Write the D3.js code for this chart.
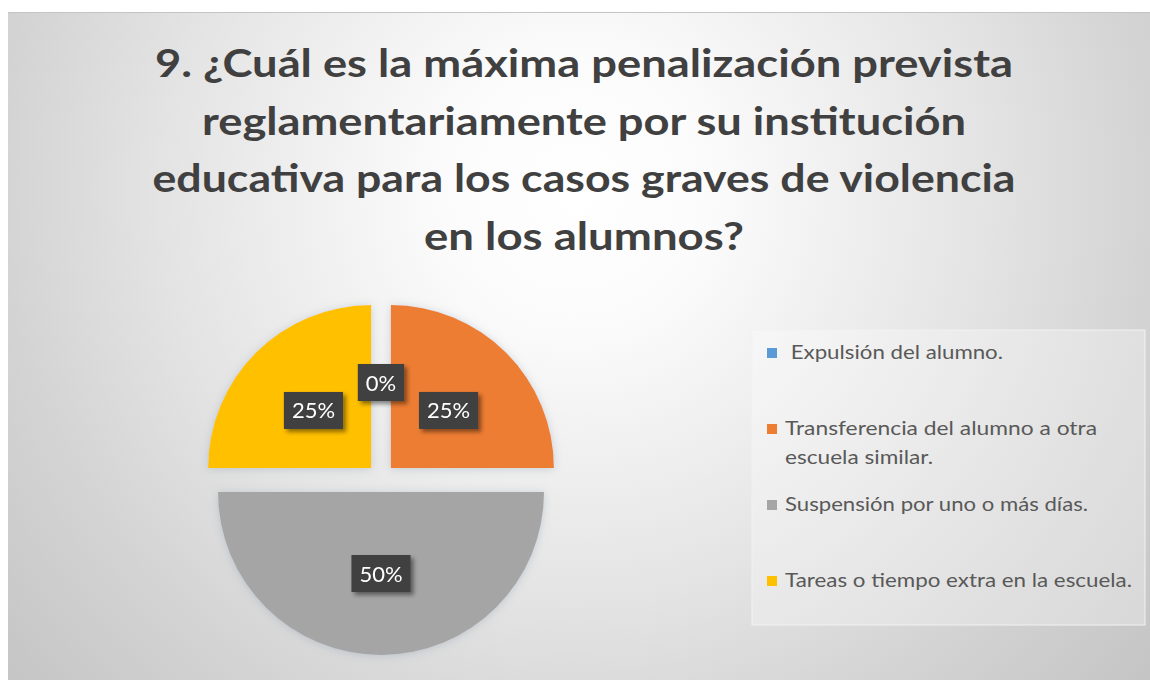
<!DOCTYPE html>
<html>
<head>
<meta charset="utf-8">
<script src="https://cdn.jsdelivr.net/npm/d3@7"></script>
<style>
  body { margin: 0; background: #ffffff; }
  svg { display: block; }
  .legendText { white-space: pre; }
</style>
</head>
<body>
<svg id="chart"></svg>
<script>
// Data

const titleLines = [
  '9. ¿Cuál es la máxima penalización prevista',
  'reglamentariamente por su institución',
  'educativa para los casos graves de violencia',
  'en los alumnos?',
];

const categories = [
  [' Expulsión del alumno.'],
  ['Transferencia del alumno a otra', 'escuela similar.'],
  ['Suspensión por uno o más días.'],
  ['Tareas o tiempo extra en la escuela.'],
];

const values = [0, 25, 50, 25];

const colors = ['#5B9BD5', '#ED7D31', '#A5A5A5', '#FFC000'];

// Layout

const W = 1150;
const H = 680;
const pieCenter = { x: 381, y: 478 };
const radius = 163;
const explode = 14;
const titleWidths = [858, 764, 863, 320];
const legendWidths = [[218], [312, 148], [303], [347]];

const svg = d3.select('#chart').attr('width', W).attr('height', H);
const defs = svg.append('defs');

const bg = defs
  .append('radialGradient')
  .attr('id', 'bg')
  .attr('gradientUnits', 'userSpaceOnUse')
  .attr('cx', 575)
  .attr('cy', 190)
  .attr('r', 760);
[
  [0, '#ffffff'],
  [0.18, '#fbfbfb'],
  [0.55, '#e3e3e3'],
  [0.75, '#d4d4d4'],
  [1, '#c4c4c4'],
].forEach(s => bg.append('stop').attr('offset', s[0]).attr('stop-color', s[1]));

const pieShadow = defs
  .append('filter')
  .attr('id', 'pieShadow')
  .attr('x', '-20%')
  .attr('y', '-20%')
  .attr('width', '140%')
  .attr('height', '140%');
pieShadow
  .append('feDropShadow')
  .attr('dx', 0)
  .attr('dy', 1)
  .attr('stdDeviation', 4)
  .attr('flood-color', '#8c9bb0')
  .attr('flood-opacity', 0.4);

const boxShadow = defs
  .append('filter')
  .attr('id', 'boxShadow')
  .attr('x', '-30%')
  .attr('y', '-30%')
  .attr('width', '160%')
  .attr('height', '160%');
boxShadow
  .append('feDropShadow')
  .attr('dx', 3)
  .attr('dy', 3)
  .attr('stdDeviation', 2)
  .attr('flood-color', '#000')
  .attr('flood-opacity', 0.45);

// Chart area
svg
  .append('rect')
  .attr('x', 8)
  .attr('y', 12)
  .attr('width', W - 8)
  .attr('height', H - 12)
  .attr('fill', 'url(#bg)');

svg
  .append('line')
  .attr('x1', 8)
  .attr('x2', W)
  .attr('y1', 12.5)
  .attr('y2', 12.5)
  .attr('stroke', '#c4c4c4')
  .attr('stroke-width', 1);

// Title
svg
  .append('g')
  .selectAll('text')
  .data(titleLines)
  .enter()
  .append('text')
  .attr('x', 584)
  .attr('y', (d, i) => 77 + i * 57.5)
  .attr('text-anchor', 'middle')
  .attr('font-family', 'Lato, "Open Sans", sans-serif')
  .attr('font-weight', 'bold')
  .attr('font-size', 39)
  .attr('fill', '#404040')
  .attr('textLength', (d, i) => titleWidths[i])
  .attr('lengthAdjust', 'spacingAndGlyphs')
  .text(d => d);

// Pie
const pie = d3.pie().sort(null).value(d => d);
const arcs = pie(values);
const arc = d3.arc().innerRadius(0).outerRadius(radius);

function sliceOrigin(d) {
  const mid = (d.startAngle + d.endAngle) / 2;
  return [explode * Math.sin(mid), -explode * Math.cos(mid)];
}

const pieG = svg
  .append('g')
  .attr('transform', `translate(${pieCenter.x}, ${pieCenter.y})`);

pieG
  .append('g')
  .attr('filter', 'url(#pieShadow)')
  .selectAll('path')
  .data(arcs)
  .enter()
  .append('path')
  .attr('transform', d => `translate(${sliceOrigin(d)})`)
  .attr('d', arc)
  .attr('fill', (d, i) => colors[i]);

// Data labels
const total = d3.sum(values);
const labelArc = d3.arc().innerRadius(radius / 2).outerRadius(radius / 2);
const pct = d3.format('.0%');

const labelG = pieG
  .selectAll('g.label')
  .data(arcs)
  .enter()
  .append('g')
  .attr('class', 'label')
  .attr('transform', d => {
    const o = sliceOrigin(d);
    const c = labelArc.centroid(d);
    return `translate(${o[0] + c[0]}, ${o[1] + c[1]})`;
  });

const boxes = labelG
  .append('rect')
  .attr('fill', '#404040')
  .attr('filter', 'url(#boxShadow)');

const labelTexts = labelG
  .append('text')
  .attr('text-anchor', 'middle')
  .attr('y', 8)
  .attr('font-family', 'Lato, "Open Sans", sans-serif')
  .attr('font-size', 22)
  .attr('fill', '#ffffff')
  .text(d => pct(d.value / total));

labelTexts.each(function (d, i) {
  const w = this.getComputedTextLength() + 16;
  d3.select(boxes.nodes()[i])
    .attr('x', -w / 2)
    .attr('y', -18.5)
    .attr('width', w)
    .attr('height', 37);
});

// Legend
const legend = svg.append('g').attr('class', 'legend');

legend
  .append('rect')
  .attr('x', 752)
  .attr('y', 330)
  .attr('width', 393)
  .attr('height', 295)
  .attr('fill', '#ffffff')
  .attr('fill-opacity', 0.3)
  .attr('stroke', '#f2f2f2')
  .attr('stroke-width', 1);

const items = legend
  .selectAll('g.item')
  .data(categories)
  .enter()
  .append('g')
  .attr('class', 'item')
  .attr('transform', (d, i) => `translate(0, ${359 + i * 76})`);

items
  .append('rect')
  .attr('x', 767)
  .attr('y', -11)
  .attr('width', 10)
  .attr('height', 10)
  .attr('fill', (d, i) => colors[i]);

items
  .append('text')
  .attr('class', 'legendText')
  .attr('font-family', 'Lato, "Open Sans", sans-serif')
  .attr('font-size', 20)
  .attr('fill', '#595959')
  .each(function (d, k) {
    d3.select(this)
      .selectAll('tspan')
      .data(d)
      .enter()
      .append('tspan')
      .attr('x', 785)
      .attr('y', (t, i) => i * 28.5)
      .attr('textLength', (t, i) => legendWidths[k][i])
      .attr('lengthAdjust', 'spacingAndGlyphs')
      .text(t => t);
  });
</script>
</body>
</html>
